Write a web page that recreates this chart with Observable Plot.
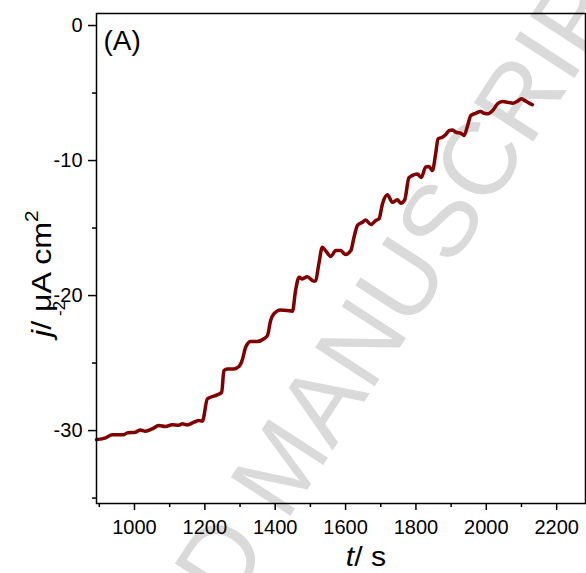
<!DOCTYPE html>
<html>
<head>
<meta charset="utf-8">
<script src="https://cdn.jsdelivr.net/npm/d3@7"></script>
<script src="https://cdn.jsdelivr.net/npm/@observablehq/plot@0.6"></script>
<style>
  html, body { margin: 0; padding: 0; background: #fff; }
  #chart { width: 586px; height: 573px; }
</style>
</head>
<body>
<div id="chart"></div>
<script>
// time (s)
const tValues = [892, 918, 937, 970, 979, 1003, 1017, 1031, 1050, 1069, 1088, 1107, 1126, 1136, 1150, 1169, 1183, 1193,
  1207, 1216, 1235, 1248, 1254, 1264, 1283, 1297, 1306, 1316, 1330, 1349, 1368, 1378, 1387, 1396, 1415, 1434, 1449,
  1458, 1468, 1477, 1491, 1510, 1515, 1524, 1534, 1543, 1558, 1572, 1586, 1600, 1615, 1624, 1634, 1648, 1657, 1672,
  1686, 1695, 1705, 1719, 1733, 1747, 1757, 1768, 1780, 1790, 1804, 1815, 1828, 1837, 1847, 1856, 1863, 1875, 1885,
  1894, 1904, 1913, 1928, 1937, 1947, 1956, 1970, 1984, 1994, 2005, 2018, 2032, 2046, 2060, 2075, 2089, 2100, 2112,
  2122, 2131];
// current density (µA cm-2)
const jValues = [-30.67, -30.54, -30.3, -30.3, -30.17, -30.12, -29.95, -30.05, -29.88, -29.63, -29.7, -29.56, -29.6, -29.5, -29.58, -29.38, -29.26, -29.3,
  -27.65, -27.53, -27.35, -27.16, -25.56, -25.43, -25.43, -25.26, -24.8, -23.83, -23.4, -23.4, -23.2, -22.96, -21.85, -21.36, -21.06, -21.1, -21.16,
  -19.6, -18.64, -18.77, -18.6, -18.94, -18.9, -17.65, -16.42, -16.67, -17.1, -16.67, -16.67, -16.96, -16.67, -15.68, -14.8, -14.57, -14.4, -14.74,
  -14.44, -14.32, -13.2, -12.54, -13.09, -12.91, -13.16, -12.91, -11.28, -11.1, -10.99, -11.25, -10.47, -10.45, -10.74, -9.5, -8.4, -8.27, -8.07,
  -7.78, -7.73, -7.9, -7.98, -8.15, -7.4, -6.67, -6.5, -6.37, -6.5, -6.54, -6.3, -5.8, -5.63, -5.68, -5.75, -5.6, -5.43, -5.6,
  -5.75, -5.87];

const xMajorTicks = [1000, 1200, 1400, 1600, 1800, 2000, 2200];
const xMinorTicks = [900, 1100, 1300, 1500, 1700, 1900, 2100];
const yMajorTicks = [0, -10, -20, -30];
const yMinorTicks = [-5, -15, -25, -35];
const panelLabel = "(A)";
const watermark = "ACCEPTED MANUSCRIPT";

const data = tValues.map((t, i) => ({t, j: jValues[i]}));

const W = 586, H = 573;
const mL = 96, mR = 1, mT = 13, mB = 70;
const font = "'Liberation Sans', Arial, sans-serif";

const plot = Plot.plot({
  width: W,
  height: H,
  marginLeft: mL,
  marginRight: mR,
  marginTop: mT,
  marginBottom: mB,
  style: {fontFamily: font, fontSize: "20px", color: "#000", background: "#fff"},
  x: {domain: [892, 2282], axis: null},
  y: {domain: [-35.4, 0.89], axis: null},
  marks: [
    Plot.text([watermark], {frameAnchor: "middle", dx: -58, dy: 208, rotate: -57, fontSize: 103, fill: "#dadada",
      textAnchor: "middle", lineAnchor: "middle", fontFamily: font}),
    Plot.axisX(xMajorTicks, {anchor: "bottom", tickSize: 7, tickPadding: 9, label: null, fontSize: 20, strokeWidth: 1.5, tickFormat: d => String(d)}),
    Plot.axisX(xMinorTicks, {anchor: "bottom", tickSize: 4, text: null, label: null, strokeWidth: 1.5}),
    Plot.axisY(yMajorTicks, {anchor: "left", tickSize: 8, tickPadding: 6, label: null, fontSize: 20, strokeWidth: 1.5, tickFormat: d => String(d)}),
    Plot.axisY(yMinorTicks, {anchor: "left", tickSize: 4, text: null, label: null, strokeWidth: 1.5}),
    Plot.line(data, {x: "t", y: "j", stroke: "#800000", strokeWidth: 3.5, curve: "monotone-x"}),
    Plot.frame({stroke: "#000", strokeWidth: 1.5}),
    Plot.text([panelLabel], {frameAnchor: "top-left", dx: 7, dy: 36, fontSize: 28, textAnchor: "start", lineAnchor: "bottom", fill: "#000"})
  ]
});

document.getElementById("chart").appendChild(plot);

const svg = d3.select(plot);

// x axis label
const xl = svg.append("text")
  .attr("transform", "translate(366,566) scale(1.12,1)")
  .attr("text-anchor", "middle")
  .attr("font-family", font).attr("font-size", 27).attr("fill", "#000");
xl.append("tspan").attr("font-style", "italic").text("t");
xl.append("tspan").text("/ s");

// y axis label (rotated, slightly stretched along its reading direction)
const yl = svg.append("text")
  .attr("transform", "translate(51,337) rotate(-90) scale(1.15,1)")
  .attr("text-anchor", "start")
  .attr("font-family", font).attr("font-size", 28).attr("fill", "#000");
yl.append("tspan").attr("font-style", "italic").text("j");
yl.append("tspan").text("/ \u03BCA cm");
yl.append("tspan").attr("font-size", 18).attr("dy", -13).text("2");
svg.append("text")
  .attr("transform", "translate(65,316) rotate(-90)")
  .attr("text-anchor", "start")
  .attr("font-family", font).attr("font-size", 17).attr("fill", "#000")
  .text("-2");
</script>
</body>
</html>
